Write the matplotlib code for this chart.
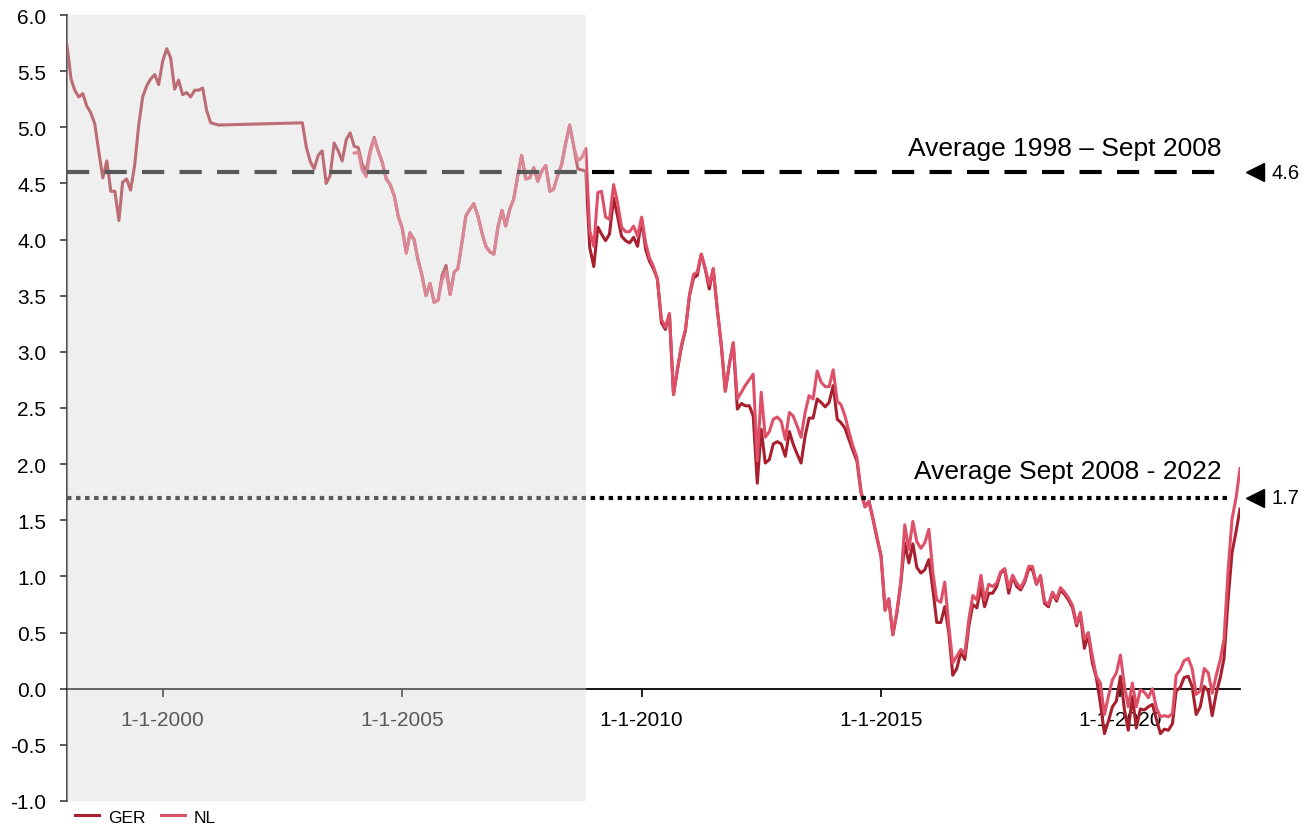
import matplotlib
matplotlib.use("Agg")
import matplotlib.pyplot as plt
import matplotlib.transforms as mtransforms
from matplotlib.patches import Rectangle
import pandas as pd

plt.rcParams['font.family'] = ['Liberation Sans', 'DejaVu Sans']
plt.rcParams['lines.scale_dashes'] = False

# monthly dates: data has a gap between 2001-03 and 2002-12
dates = pd.date_range('1998-01-01', '2001-03-01', freq='MS').append(
    pd.date_range('2002-12-01', '2022-07-01', freq='MS'))

ger = [
    5.73, 5.43, 5.33, 5.27, 5.30, 5.19, 5.13, 5.03, 4.78, 4.55, 4.70, 4.43,  # 1998
    4.43, 4.17, 4.51, 4.54, 4.44, 4.66, 5.01, 5.27, 5.37, 5.43, 5.47, 5.38,  # 1999
    5.59, 5.70, 5.62, 5.34, 5.42, 5.29, 5.31, 5.27, 5.33, 5.33, 5.35, 5.15,  # 2000
    5.04, 5.03, 5.02,                                                        # 2001
    5.04,                                                                    # 2002-12
    4.82, 4.69, 4.63, 4.75, 4.79, 4.50, 4.57, 4.86, 4.79, 4.70, 4.89, 4.95,  # 2003
    4.83, 4.82, 4.67, 4.61, 4.79, 4.91, 4.79, 4.69, 4.54, 4.49, 4.39, 4.21,  # 2004
    4.10, 3.88, 4.06, 4.00, 3.82, 3.68, 3.50, 3.61, 3.44, 3.46, 3.68, 3.77,  # 2005
    3.51, 3.71, 3.74, 3.97, 4.21, 4.27, 4.32, 4.21, 4.06, 3.94, 3.89, 3.87,  # 2006
    4.11, 4.26, 4.12, 4.27, 4.36, 4.57, 4.75, 4.54, 4.55, 4.64, 4.52, 4.61,  # 2007
    4.66, 4.43, 4.45, 4.57, 4.67, 4.86, 5.02, 4.83, 4.63, 4.62, 4.61, 3.93,  # 2008
    3.76, 4.11, 4.05, 3.99, 4.05, 4.37, 4.21, 4.03, 3.99, 3.97, 4.02, 3.94,  # 2009
    4.18, 3.91, 3.81, 3.74, 3.65, 3.26, 3.20, 3.34, 2.62, 2.84, 3.05, 3.19,  # 2010
    3.50, 3.66, 3.68, 3.87, 3.74, 3.56, 3.74, 3.38, 3.05, 2.65, 2.89, 3.08,  # 2011
    2.49, 2.54, 2.52, 2.52, 2.43, 1.83, 2.31, 2.01, 2.04, 2.18, 2.20, 2.18,  # 2012
    2.07, 2.29, 2.18, 2.09, 2.01, 2.25, 2.41, 2.41, 2.58, 2.55, 2.51, 2.55,  # 2013
    2.70, 2.40, 2.37, 2.32, 2.22, 2.12, 2.03, 1.75, 1.62, 1.67, 1.51, 1.34,  # 2014
    1.18, 0.70, 0.80, 0.48, 0.67, 0.94, 1.30, 1.12, 1.29, 1.08, 1.03, 1.06,  # 2015
    1.15, 0.88, 0.59, 0.59, 0.73, 0.50, 0.12, 0.18, 0.33, 0.26, 0.56, 0.75,  # 2016
    0.72, 0.90, 0.73, 0.85, 0.85, 0.91, 1.03, 1.06, 0.85, 1.00, 0.91, 0.88,  # 2017
    0.95, 1.07, 1.06, 0.93, 1.00, 0.76, 0.73, 0.85, 0.78, 0.88, 0.84, 0.79,  # 2018
    0.72, 0.56, 0.67, 0.36, 0.48, 0.23, 0.10, -0.13, -0.40, -0.29, -0.16, -0.11,  # 2019
    0.11, -0.19, -0.37, -0.07, -0.35, -0.18, -0.19, -0.16, -0.14, -0.27, -0.40, -0.36,  # 2020
    -0.37, -0.31, -0.02, 0.01, 0.10, 0.11, 0.02, -0.23, -0.16, 0.02, -0.02, -0.24,  # 2021
    -0.04, 0.10, 0.27, 0.79, 1.21, 1.40, 1.60,                               # 2022
]

nl = [None] * 52 + [
    4.77, 4.78, 4.62, 4.56, 4.77, 4.90, 4.79, 4.69, 4.54, 4.49, 4.39, 4.21,  # 2004
    4.10, 3.88, 4.06, 4.00, 3.82, 3.68, 3.50, 3.61, 3.44, 3.46, 3.64, 3.72,  # 2005
    3.51, 3.71, 3.74, 3.97, 4.21, 4.27, 4.32, 4.21, 4.06, 3.94, 3.89, 3.87,  # 2006
    4.11, 4.26, 4.12, 4.27, 4.36, 4.57, 4.75, 4.54, 4.55, 4.64, 4.52, 4.61,  # 2007
    4.66, 4.43, 4.45, 4.57, 4.67, 4.86, 5.02, 4.83, 4.70, 4.73, 4.81, 4.08,  # 2008
    3.94, 4.42, 4.43, 4.20, 4.18, 4.49, 4.33, 4.11, 4.07, 4.07, 4.12, 4.03,  # 2009
    4.20, 3.97, 3.84, 3.76, 3.65, 3.29, 3.22, 3.34, 2.62, 2.85, 3.06, 3.20,  # 2010
    3.51, 3.69, 3.71, 3.87, 3.74, 3.60, 3.74, 3.38, 3.06, 2.65, 2.89, 3.08,  # 2011
    2.58, 2.64, 2.70, 2.75, 2.80, 2.03, 2.64, 2.24, 2.29, 2.40, 2.42, 2.38,  # 2012
    2.22, 2.46, 2.43, 2.34, 2.24, 2.46, 2.61, 2.58, 2.83, 2.73, 2.69, 2.69,  # 2013
    2.84, 2.56, 2.53, 2.43, 2.29, 2.16, 2.06, 1.76, 1.62, 1.67, 1.51, 1.35,  # 2014
    1.19, 0.70, 0.80, 0.48, 0.68, 0.95, 1.46, 1.24, 1.49, 1.31, 1.25, 1.30,  # 2015
    1.42, 1.03, 0.79, 0.77, 0.95, 0.56, 0.23, 0.29, 0.35, 0.31, 0.62, 0.83,  # 2016
    0.79, 1.01, 0.79, 0.93, 0.91, 0.94, 1.04, 1.07, 0.90, 1.01, 0.94, 0.90,  # 2017
    0.97, 1.09, 1.09, 0.93, 1.01, 0.78, 0.75, 0.86, 0.80, 0.90, 0.86, 0.81,  # 2018
    0.74, 0.58, 0.68, 0.44, 0.50, 0.29, 0.11, 0.05, -0.23, -0.07, 0.08, 0.14,  # 2019
    0.30, 0.02, -0.16, 0.05, -0.16, -0.01, -0.03, -0.08, 0.00, -0.17, -0.25, -0.24,  # 2020
    -0.25, -0.22, 0.12, 0.17, 0.25, 0.27, 0.18, -0.05, -0.02, 0.18, 0.14, -0.04,  # 2021
    0.12, 0.26, 0.44, 1.05, 1.51, 1.70, 1.96,                                # 2022
]

avg_levels = [4.6, 1.7]
avg_labels = ['Average 1998 \u2013 Sept 2008', 'Average Sept 2008 - 2022']
tick_dates = ['2000-01-01', '2005-01-01', '2010-01-01', '2015-01-01', '2020-01-01']
tick_labels = ['1-1-2000', '1-1-2005', '1-1-2010', '1-1-2015', '1-1-2020']
shade_end = '2008-11-01'

ger_s = pd.Series(ger, index=dates, dtype=float)
nl_s = pd.Series(nl, index=dates, dtype=float)

fig = plt.figure(figsize=(13.11, 8.28), dpi=100)
ax = fig.add_axes([67 / 1311, 26 / 828, 1173 / 1311, 786 / 828])

ax.plot(ger_s.index, ger_s.values, color='#A8202E', lw=2.2, label='GER', zorder=3)
ax.plot(nl_s.index, nl_s.values, color='#DE5068', lw=2.2, label='NL', zorder=4)

ax.set_xlim(pd.Timestamp('1998-01-01'), pd.Timestamp('2022-07-01'))
ax.set_ylim(-1.0, 6.0)
ax.set_yticks([-1.0 + 0.5 * i for i in range(15)])
ax.set_yticklabels(['%.1f' % (-1.0 + 0.5 * i) for i in range(15)])
ax.set_xticks(pd.to_datetime(tick_dates))
ax.set_xticklabels(tick_labels)

ax.spines['top'].set_visible(False)
ax.spines['right'].set_visible(False)
ax.spines['bottom'].set_position(('data', 0))
ax.spines['bottom'].set_color('black')
ax.spines['bottom'].set_linewidth(1.3)
ax.spines['left'].set_color('#404040')
ax.spines['left'].set_linewidth(1.3)
ax.tick_params(axis='y', labelsize=15, length=5, width=1.2, color='#404040', pad=10)
ax.tick_params(axis='x', labelsize=15, length=6, width=1.2, pad=9)

# average lines, dashed and dotted
ax.axhline(avg_levels[0], xmin=0, xmax=0.987, color='black', lw=3.0,
           dashes=(16, 11), zorder=5)
ax.axhline(avg_levels[1], xmin=0, xmax=0.99, color='black', lw=3.0,
           dashes=(3.2, 3.3), zorder=5)

trans = mtransforms.blended_transform_factory(ax.transAxes, ax.transData)
ax.text(0.9846, 4.75, avg_labels[0], transform=trans, ha='right',
        va='baseline', fontsize=19)
ax.text(0.9846, 1.88, avg_labels[1], transform=trans, ha='right',
        va='baseline', fontsize=19)
for lev in avg_levels:
    ax.plot([1.0128], [lev], marker='<', markersize=13, color='black',
            transform=trans, clip_on=False)
    ax.text(1.0266, lev, '%.1f' % lev, transform=trans, ha='left',
            va='center', fontsize=14.5)

# semi-transparent block over the pre-crisis period
trans_x = mtransforms.blended_transform_factory(ax.transData, ax.transAxes)
x0 = matplotlib.dates.date2num(pd.Timestamp('1998-01-01'))
x1 = matplotlib.dates.date2num(pd.Timestamp(shade_end))
ax.add_patch(Rectangle((x0, 0), x1 - x0, 1, transform=trans_x,
                       facecolor=(217 / 255, 217 / 255, 217 / 255),
                       alpha=0.41, edgecolor='none', zorder=10))

fig.legend(loc='center left', bbox_to_anchor=(75 / 1311, 1 - 818 / 828),
           ncol=2, frameon=False, fontsize=12.5, handlelength=1.4,
           handletextpad=0.5, columnspacing=0.9, borderpad=0,
           borderaxespad=0)

plt.savefig('out.png', dpi=100)
